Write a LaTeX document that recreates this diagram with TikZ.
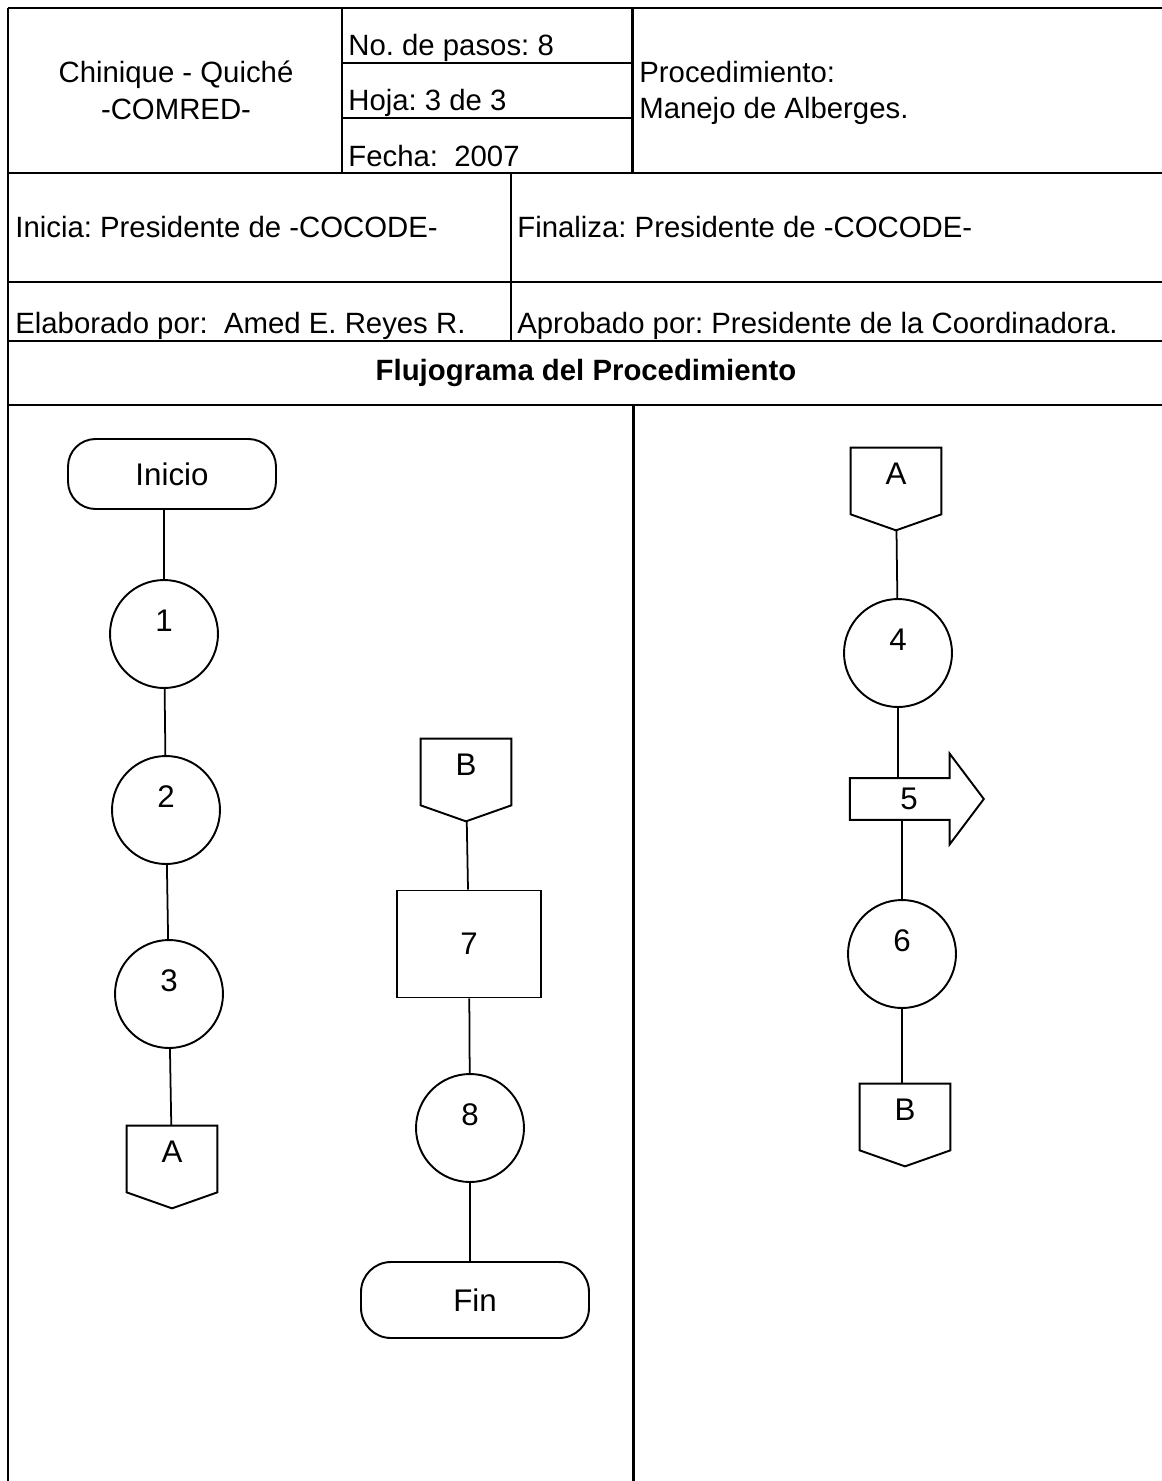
\documentclass[tikz,border=0pt]{standalone}
\usepackage{fontspec}
\setmainfont{Liberation Sans}
\usetikzlibrary{calc}
\usetikzlibrary{shapes.arrows}
\frenchspacing

\tikzset{
  letra/.style={font=\fontsize{16.7pt}{20pt}\selectfont},
  figura/.style={font=\fontsize{17.8pt}{21pt}\selectfont},
  texto/.style={letra, inner sep=0pt, anchor=base west},
  forma/.style={line width=1.1pt},
  linea/.style={line width=1pt},
  tabla/.style={line width=1.7pt},
  terminal/.style={figura, forma, draw, rectangle, rounded corners=0.55cm, minimum width=4.16cm, minimum height=1.4cm},
  paso/.style={figura, forma, draw, circle, minimum size=2.16cm, text height=0.7em, text depth=1.0em},
  tarea/.style={figura, forma, draw, rectangle, minimum width=2.88cm, minimum height=2.14cm, text height=1.19em, text depth=0pt},
  conector/.style={figura, minimum width=1.8cm, minimum height=1.64cm, text height=0.72em, text depth=1.24em},
  flecha/.style={figura, forma, draw, single arrow, single arrow head extend=0.42cm, single arrow tip angle=106, minimum width=1.82cm, minimum height=2.68cm}
}

\begin{document}
\begin{tikzpicture}[x=0.02cm,y=-0.02cm]
\useasboundingbox (0,0) rectangle (1161,1481);

% cuadro de encabezado
\draw[tabla] (8,8) -- (1170,8);
\draw[tabla] (8,8) -- (8,1490);
\foreach \y in {173,282,341,405}
  \draw[tabla] (8,\y) -- (1170,\y);
\draw[tabla] (342,8) -- (342,173);
\draw[tabla] (632,8) -- (632,173);
\draw[tabla] (342,63) -- (632,63);
\draw[tabla] (342,118) -- (632,118);
\draw[tabla] (511,173) -- (511,341);
\draw[tabla] (633,405) -- (633,1490);

\node[texto, anchor=base] (lugar) at (176,82) {Chinique - Quiché};
\node[texto, anchor=base] (comred) at (176,119) {-COMRED-};
\node[texto] (pasos) at (348,55) {No. de pasos: 8};
\node[texto] (hoja) at (348,110) {Hoja: 3 de 3};
\node[texto] (fecha) at (348,166) {Fecha:\ \ 2007};
\node[texto] (proc) at (639,82) {Procedimiento:};
\node[texto] (manejo) at (639,118) {Manejo de Alberges.};
\node[texto] (inicia) at (15,237) {Inicia: Presidente de -COCODE-};
\node[texto] (finaliza) at (517,237) {Finaliza: Presidente de -COCODE-};
\node[texto] (elaborado) at (15,333) {Elaborado por:\ \ Amed E. Reyes R.};
\node[texto] (aprobado) at (517,333) {Aprobado por: Presidente de la Coordinadora.};
\node[texto, anchor=base, font=\fontsize{16.7pt}{20pt}\selectfont\bfseries] (titulo) at (586,380) {Flujograma del Procedimiento};

% primera columna
\node[terminal] (inicio) at (172,474) {Inicio};
\node[paso] (p1) at (164,634) {1};
\node[paso] (p2) at (166,810) {2};
\node[paso] (p3) at (169,994) {3};
\node[conector] (a1) at (172,1167) {A};

\draw[linea] (p1 |- inicio.south) -- (p1);
\draw[linea] (p1) -- (p2);
\draw[linea] (p2) -- (p3);
\draw[linea] (p3) -- (a1);

% segunda columna
\node[conector] (b1) at (466,780) {B};
\node[tarea] (p7) at (469,944) {7};
\node[paso] (p8) at (470,1128) {8};
\node[terminal, minimum width=4.56cm, minimum height=1.52cm, rounded corners=0.6cm] (fin) at (475,1300) {Fin};

\draw[linea] (b1) -- (p7);
\draw[linea] (p7) -- (p8);
\draw[linea] (p8) -- (p8 |- fin.north);

% tercera columna
\node[conector] (a2) at (896,489) {A};
\node[paso] (p4) at (898,653) {4};
\node[flecha] (p5) at (909,799) {5};
\node[paso] (p6) at (902,954) {6};
\node[conector] (b2) at (905,1125) {B};

\draw[linea] (a2) -- (p4);
\draw[linea] (p4) -- (p4 |- p5.north);
\draw[linea] (p6 |- p5.south) -- (p6);
\draw[linea] (p6) -- (p6 |- b2.north);

% conectores de pagina
\foreach \c in {a1,b1,a2,b2}
  \draw[forma] (\c.north west) -- (\c.north east) -- ($(\c.south east)+(0,-16)$) -- (\c.south) -- ($(\c.south west)+(0,-16)$) -- cycle;

\end{tikzpicture}
\end{document}
